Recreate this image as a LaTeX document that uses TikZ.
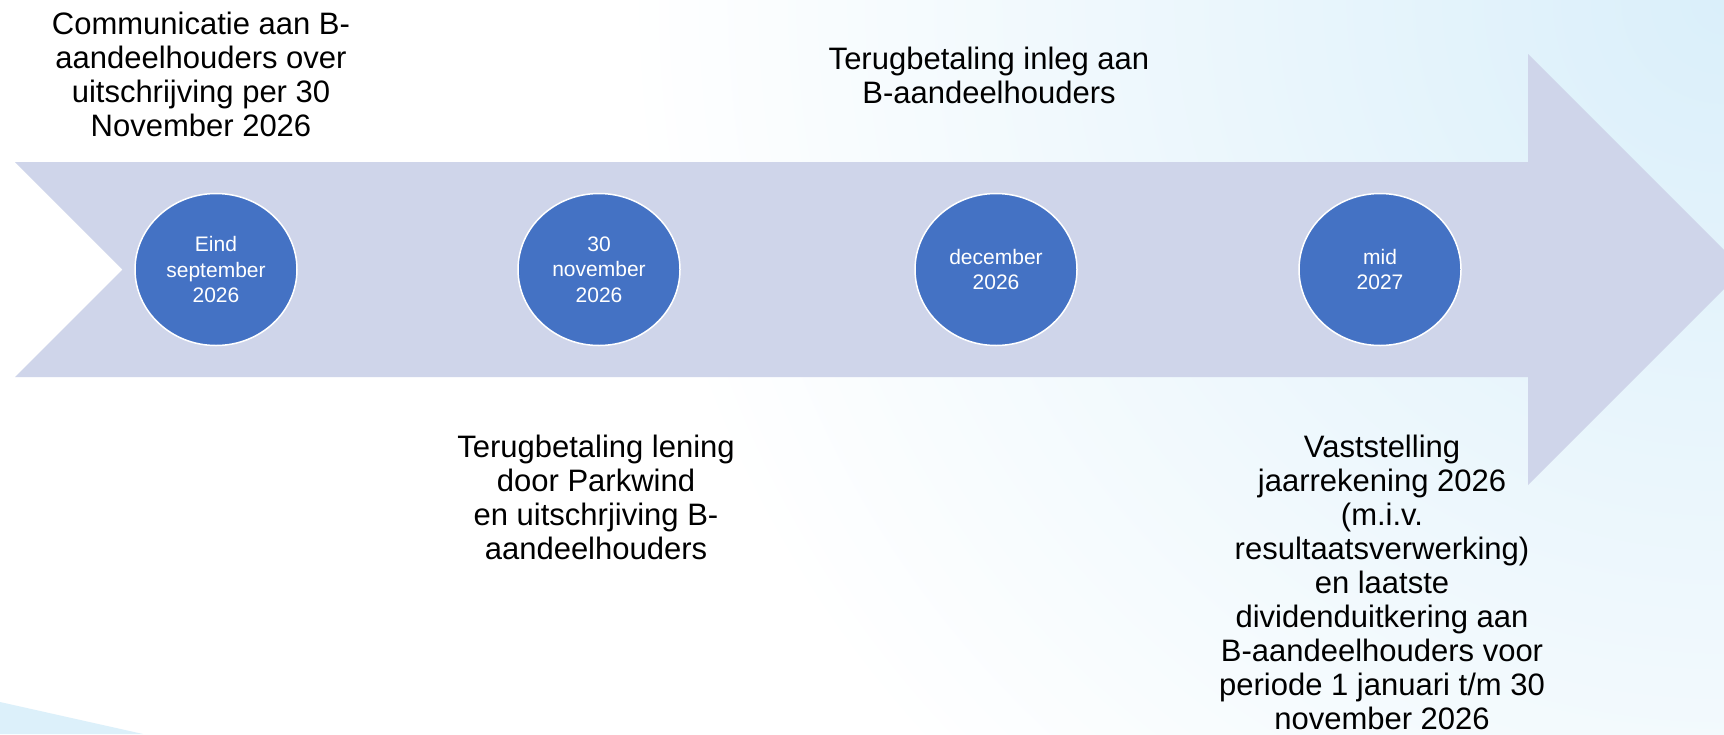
\documentclass[tikz,border=0pt]{standalone}
\usepackage{fontspec}
\setmainfont{Liberation Sans}
\usetikzlibrary{shapes.geometric}
\definecolor{arrowfill}{HTML}{CFD5EA}
\definecolor{dotblue}{HTML}{4472C4}
\definecolor{skyback}{HTML}{DAEFFA}

\begin{document}
\begin{tikzpicture}[x=1pt,y=-1pt,
  datedot/.style={ellipse, fill=dotblue, draw=white, line width=1.5pt,
    minimum width=162pt, minimum height=152pt, inner sep=0pt,
    align=center, text=white, font=\fontsize{21}{25.5}\selectfont},
  eventtext/.style={anchor=north, inner sep=0pt, align=center,
    font=\fontsize{31}{34}\selectfont}]
\useasboundingbox (0,0) rectangle (1724,734);
\clip (0,0) rectangle (1724,734);
\fill[white] (0,0) rectangle (1724,734);
% background
\shade[inner color=skyback, outer color=white] (1724,0) circle (1100);
\fill[skyback!95!white] (0,702) -- (143,734) -- (0,734) -- cycle;
% the arrow
\fill[arrowfill] (15,162) -- (1528,162) -- (1528,54) -- (1743.5,269.5)
  -- (1528,485) -- (1528,377) -- (15,377) -- (122.5,269.5) -- cycle;
% dates
\node[datedot] (sep) at (216,269.5) {Eind\\september\\2026};
\node[datedot] (nov) at (599,269.5) {30\\november\\2026};
\node[datedot] (dec) at (996,269.5) {december\\2026};
\node[datedot] (mid) at (1380,269.5) {mid\\2027};
% events
\node[eventtext] (communicatie) at (201,12) {Communicatie aan B-\\aandeelhouders over\\uitschrijving per 30\\November 2026};
\node[eventtext] (inleg) at (989,47) {Terugbetaling inleg aan\\B-aandeelhouders};
\node[eventtext] (lening) at (596,435) {Terugbetaling lening\\door Parkwind\\en uitschrjiving B-\\aandeelhouders};
\node[eventtext] (jaarrekening) at (1382,435) {Vaststelling\\jaarrekening 2026\\(m.i.v.\\resultaatsverwerking)\\en laatste\\dividenduitkering aan\\B-aandeelhouders voor\\periode 1 januari t/m 30\\november 2026};
\end{tikzpicture}
\end{document}
